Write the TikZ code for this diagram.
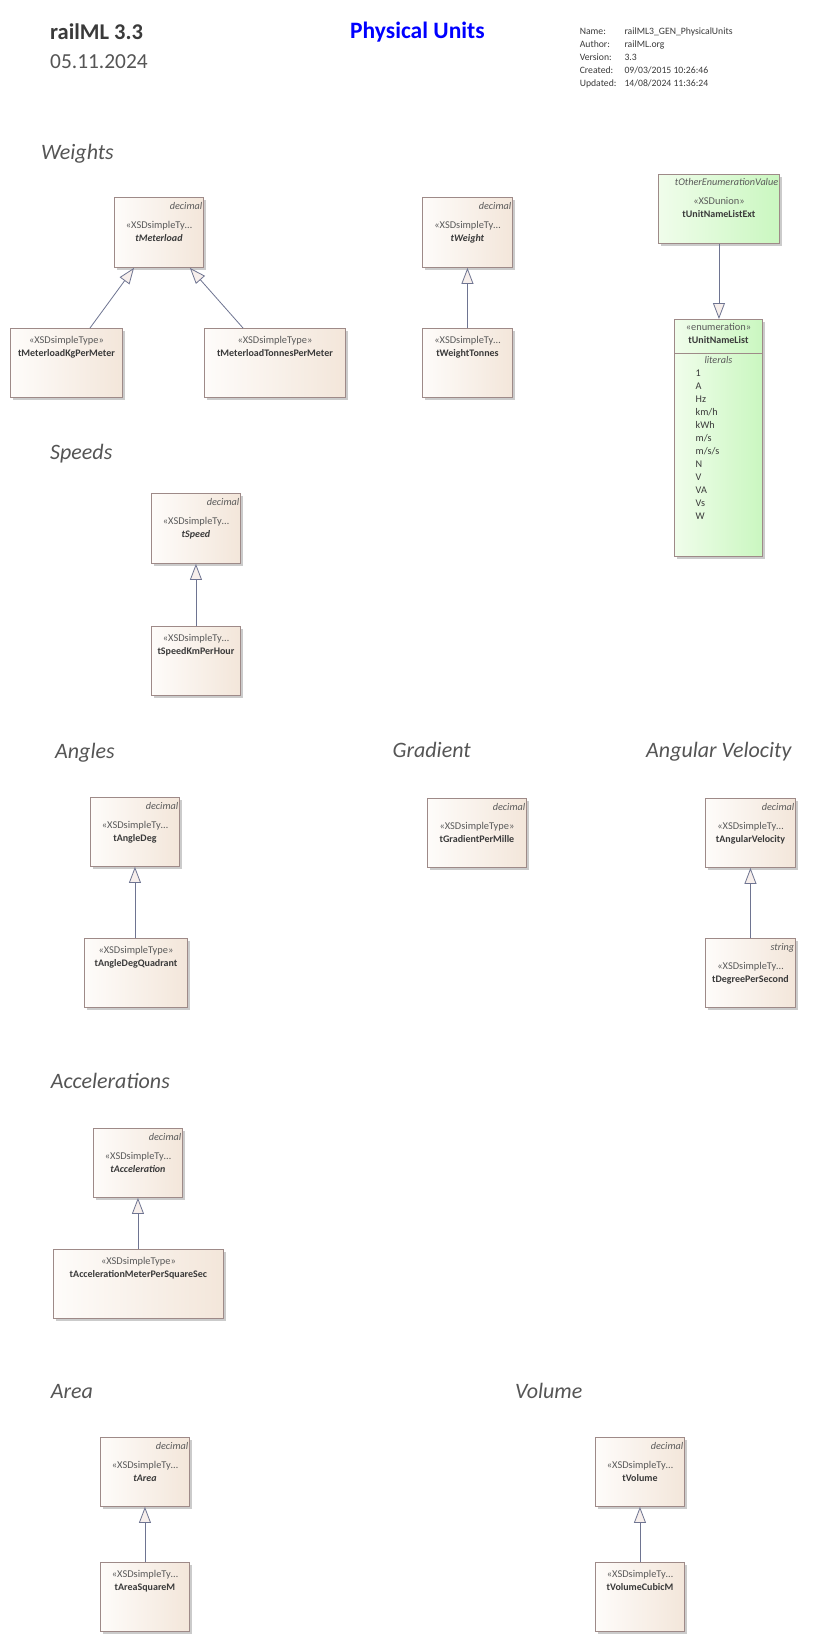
\documentclass[tikz,border=0pt]{standalone}
\usepackage{fontspec}
\setmainfont{Carlito}
\usetikzlibrary{arrows.meta,shadows,calc}
\definecolor{boxL}{HTML}{FEFCFA}
\definecolor{boxR}{HTML}{F3E6DA}
\definecolor{grnL}{HTML}{F0FDEB}
\definecolor{grnR}{HTML}{CAF7C0}
\definecolor{bord}{HTML}{9E8A88}
\definecolor{lnk}{HTML}{6E7491}
\definecolor{tipf}{HTML}{F7EFEC}
\definecolor{txtd}{HTML}{3A3A3A}
\definecolor{txtg}{HTML}{5A5A5A}
\definecolor{head}{HTML}{555555}
\newcommand\ubox[6][umlbox]{\node[#1, minimum width={(#4-#2)*1pt}, minimum height={(#5-#3)*1pt}] (#6) at (#2,#3) {};}
\newcommand\utag[3][12]{\node[tag] (#2-tag) at ([xshift=-1.5pt,yshift=-#1pt]#2.north east) {#3};}
\newcommand\ust[3]{\node[stereo] (#1-st) at ([yshift=-#2pt]#1.north) {#3};}
\newcommand\unm[3]{\node[uname] (#1-nm) at ([yshift=-#2pt]#1.north) {#3};}
\begin{document}
\begin{tikzpicture}[x=1pt,y=-1pt,
  umlbox/.style={draw=bord, line width=0.9pt, anchor=north west, inner sep=0pt, left color=boxL, right color=boxR,
    drop shadow={shadow xshift=3pt, shadow yshift=-3pt, fill=black!25, opacity=0.8}},
  grnbox/.style={umlbox, left color=grnL, right color=grnR},
  tag/.style={font=\fontsize{10.2}{11}\selectfont\itshape, text=txtg, inner sep=0pt, anchor=base east},
  stereo/.style={font=\fontsize{10.4}{11}\selectfont, text=txtg, inner sep=0pt, anchor=base},
  uname/.style={font=\fontsize{10}{11}\selectfont\bfseries, text=txtd, inner sep=0pt, anchor=base},
  lit/.style={font=\fontsize{10.2}{11}\selectfont, text=txtd, inner sep=0pt, anchor=base west},
  heading/.style={font=\fontsize{22}{25}\selectfont\itshape, text=head, inner sep=0pt, anchor=base west},
  meta/.style={font=\fontsize{9.7}{11}\selectfont, text=txtd, inner sep=0pt, anchor=base west},
  gen/.style={draw=lnk, line width=0.8pt, -{Triangle[length=16pt, width=12pt, fill=tipf]}}
]
\useasboundingbox[fill=white] (0,0) rectangle (826,1642);
% header
\node[font=\fontsize{22.5}{26}\selectfont\bfseries, text=txtd, inner sep=0pt, anchor=base west] (title) at (50,39) {railML 3.3};
\node[font=\fontsize{21.4}{25}\selectfont, text=head, inner sep=0pt, anchor=base west] (date) at (50,68) {05.11.2024};
\node[font=\fontsize{23.5}{27}\selectfont\bfseries, text=blue, inner sep=0pt, anchor=base west] (ptitle) at (350,38) {Physical Units};
\node[meta] (mk1) at (579.6,34.3) {Name:};
\node[meta] (mv1) at (624.3,34.3) {railML3\_GEN\_PhysicalUnits};
\node[meta] (mk2) at (579.6,47.3) {Author:};
\node[meta] (mv2) at (624.3,47.3) {railML.org};
\node[meta] (mk3) at (579.6,60.3) {Version:};
\node[meta] (mv3) at (624.3,60.3) {3.3};
\node[meta] (mk4) at (579.6,73.3) {Created:};
\node[meta] (mv4) at (624.3,73.3) {09/03/2015 10:26:46};
\node[meta] (mk5) at (579.6,86.3) {Updated:};
\node[meta] (mv5) at (624.3,86.3) {14/08/2024 11:36:24};
% headings
\node[heading] (h1) at (41,159) {Weights};
\node[heading] (h2) at (50,459) {Speeds};
\node[heading] (h3) at (55,758) {Angles};
\node[heading] (h4) at (392.5,757) {Gradient};
\node[heading] (h5) at (646,757) {Angular Velocity};
\node[heading] (h6) at (50.6,1088) {Accelerations};
\node[heading] (h7) at (50.6,1398) {Area};
\node[heading] (h8) at (515,1398) {Volume};
% weights
\ubox{114}{197}{203}{267}{ml}
\utag{ml}{decimal}\ust{ml}{31}{«XSDsimpleTy…}\unm{ml}{44.5}{\itshape tMeterload}
\ubox{10}{328}{122}{397}{kg}
\ust{kg}{15}{«XSDsimpleType»}\unm{kg}{28.5}{tMeterloadKgPerMeter}
\ubox{204}{328}{345}{397}{tpm}
\ust{tpm}{15}{«XSDsimpleType»}\unm{tpm}{28.5}{tMeterloadTonnesPerMeter}
\ubox{422}{197}{512}{267}{w}
\utag{w}{decimal}\ust{w}{31}{«XSDsimpleTy…}\unm{w}{44.5}{\itshape tWeight}
\ubox{422}{328}{512}{397}{wt}
\ust{wt}{15}{«XSDsimpleTy…}\unm{wt}{28.5}{tWeightTonnes}
\ubox[grnbox]{658}{174}{779}{243}{ext}
\utag[11]{ext}{tOtherEnumerationValue}\ust{ext}{30}{«XSDunion»}\unm{ext}{43}{tUnitNameListExt}
\ubox[grnbox]{674}{319}{762}{556}{unl}
\ust{unl}{11.5}{«enumeration»}\unm{unl}{24}{tUnitNameList}
\draw[draw=bord, line width=0.9pt] ([yshift=-34pt]unl.north west) coordinate (unlA) -- ([yshift=-34pt]unl.north east) coordinate (unlB);
\node[stereo, font=\fontsize{10.2}{11}\selectfont\itshape] (unl-lt) at ([yshift=-44.7pt]unl.north) {literals};
\foreach \t [count=\i from 0] in {1,A,Hz,km/h,kWh,m/s,m/s/s,N,V,VA,Vs,W}
  \node[lit] (unl-l\i) at ($(unl.north west)+(21.5,57.7+13*\i)$) {\t};
% speeds
\ubox{151}{493}{240}{563}{sp}
\utag{sp}{decimal}\ust{sp}{31}{«XSDsimpleTy…}\unm{sp}{44.5}{\itshape tSpeed}
\ubox{151}{626}{240}{695}{spk}
\ust{spk}{15}{«XSDsimpleTy…}\unm{spk}{28.5}{tSpeedKmPerHour}
% angles
\ubox{90}{797}{179}{866}{ad}
\utag{ad}{decimal}\ust{ad}{31}{«XSDsimpleTy…}\unm{ad}{44.5}{tAngleDeg}
\ubox{84}{938}{187}{1007}{adq}
\ust{adq}{15}{«XSDsimpleType»}\unm{adq}{28.5}{tAngleDegQuadrant}
\ubox{427}{798}{526}{867}{gpm}
\utag{gpm}{decimal}\ust{gpm}{31}{«XSDsimpleType»}\unm{gpm}{44.5}{tGradientPerMille}
\ubox{705}{798}{795}{867}{av}
\utag{av}{decimal}\ust{av}{31}{«XSDsimpleTy…}\unm{av}{44.5}{tAngularVelocity}
\ubox{705}{938}{795}{1007}{dps}
\utag{dps}{string}\ust{dps}{31}{«XSDsimpleTy…}\unm{dps}{44.5}{tDegreePerSecond}
% accelerations
\ubox{93}{1128}{182}{1197}{acc}
\utag{acc}{decimal}\ust{acc}{31}{«XSDsimpleTy…}\unm{acc}{44.5}{\itshape tAcceleration}
\ubox{53}{1249}{223}{1318}{accm}
\ust{accm}{15}{«XSDsimpleType»}\unm{accm}{28.5}{tAccelerationMeterPerSquareSec}
% area / volume
\ubox{100}{1437}{189}{1506}{ar}
\utag{ar}{decimal}\ust{ar}{31}{«XSDsimpleTy…}\unm{ar}{44.5}{\itshape tArea}
\ubox{100}{1562}{189}{1631}{arsq}
\ust{arsq}{15}{«XSDsimpleTy…}\unm{arsq}{28.5}{tAreaSquareM}
\ubox{595}{1437}{684}{1506}{vol}
\utag{vol}{decimal}\ust{vol}{31}{«XSDsimpleTy…}\unm{vol}{44.5}{tVolume}
\ubox{595}{1562}{684}{1631}{volc}
\ust{volc}{15}{«XSDsimpleTy…}\unm{volc}{28.5}{tVolumeCubicM}
% connectors
\draw[gen] ([xshift=80pt]kg.north west) -- ([xshift=20pt]ml.south west);
\draw[gen] ([xshift=39pt]tpm.north west) -- ([xshift=-14pt]ml.south east);
\draw[gen] (wt.north) -- (w.south);
\draw[gen] (ext.south) -- (ext.south |- unl.north);
\draw[gen] (spk.north) -- (sp.south);
\draw[gen] (ad.south |- adq.north) -- (ad.south);
\draw[gen] (dps.north) -- (av.south);
\draw[gen] (acc.south |- accm.north) -- (acc.south);
\draw[gen] (arsq.north) -- (ar.south);
\draw[gen] (volc.north) -- (vol.south);
\end{tikzpicture}
\end{document}
